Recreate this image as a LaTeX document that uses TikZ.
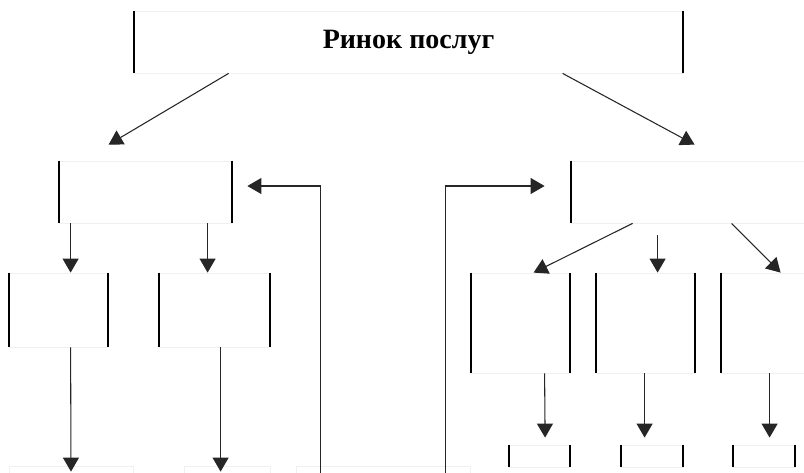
\documentclass[tikz,border=0pt]{standalone}
\usepackage{fontspec}
\setmainfont{Liberation Serif}
\usetikzlibrary{arrows.meta,calc}
\definecolor{faint}{gray}{0.94}
\newcommand{\pxu}{0.75pt}
\tikzset{
	box/.style 2 args={draw=faint, line width=0.6pt, inner sep=0pt,
		minimum width=#1*\pxu, minimum height=#2*\pxu},
	boxside/.style={line width=1.5pt},
	arr/.style={draw=black!85, line width=0.8pt, -{Triangle[length=10.5pt,width=12pt]}},
}
\begin{document}
\begin{tikzpicture}[x=\pxu, y=-\pxu]
	\clip (0,0) rectangle (804,472);
	\node[box={549}{62}] (top) at (408.5,42) {\fontsize{21}{25}\selectfont\bfseries Ринок послуг};
	\node[box={173}{62}] (lmid) at (145.5,192) {};
	\node[box={300}{62}] (rmid) at (721,192) {};
	\node[box={99}{74}] (la) at (58.5,310) {};
	\node[box={111}{74}] (lb) at (214.5,310) {};
	\node[box={99}{100}] (rc) at (520.5,323) {};
	\node[box={99}{100}] (rd) at (645.5,323) {};
	\node[box={99}{100}] (re) at (770.5,323) {};
	\node[box={61}{22}] (s1) at (539.5,456) {};
	\node[box={62}{22}] (s2) at (652,456) {};
	\node[box={62}{22}] (s3) at (764,456) {};
	\node[box={124}{60}] (b1) at (71,496) {};
	\node[box={86}{60}] (b2) at (227,496) {};
	\node[box={174}{60}] (b3) at (383,496) {};
	% thick left and right edges
	\foreach \n in {top,lmid,rmid,la,lb,rc,rd,re,s1,s2,s3}
		\draw[boxside] (\n.north west) -- (\n.south west) (\n.north east) -- (\n.south east);
	\draw[arr] ($(top.south west)+(95,0)$) -- ($(lmid.north west)+(50,-16)$);
	\draw[arr] ($(top.south west)+(429,0)$) -- ($(rmid.north west)+(124,-16)$);
	\draw[arr] ($(lmid.south west)+(12,0)$) -- ($(la.north west)+(62,0)$);
	\draw[arr] ($(lmid.south west)+(149,0)$) -- ($(lb.north west)+(49,0)$);
	\draw[arr] ($(la.south west)+(62,0)$) -- ($(b1.north)+(0,6)$);
	\draw[arr] ($(lb.south west)+(62,0)$) -- ($(b2.north west)+(37,6)$);
	\draw[arr] ($(b3.north west)+(25,20)$) |- ($(lmid.east)+(15,-6)$);
	\draw[arr] ($(b3.north west)+(150,20)$) |- ($(rmid.west)+(-26,-6)$);
	\draw[arr] ($(rmid.south west)+(62,0)$) -- ($(rc.north west)+(63,0)$);
	\draw[arr] ($(rmid.south west)+(87,12)$) -- ($(rd.north west)+(62,0)$);
	\draw[arr] ($(rmid.south west)+(161,0)$) -- ($(re.north west)+(60,0)$);
	\draw[arr] ($(rc.south west)+(74,0)$) -- ($(s1.north west)+(36.5,-7)$);
	\draw[arr] ($(rd.south west)+(49,0)$) -- ($(s2.north west)+(24,-7)$);
	\draw[arr] ($(re.south west)+(49,0)$) -- ($(s3.north west)+(37,-7)$);
\end{tikzpicture}
\end{document}
